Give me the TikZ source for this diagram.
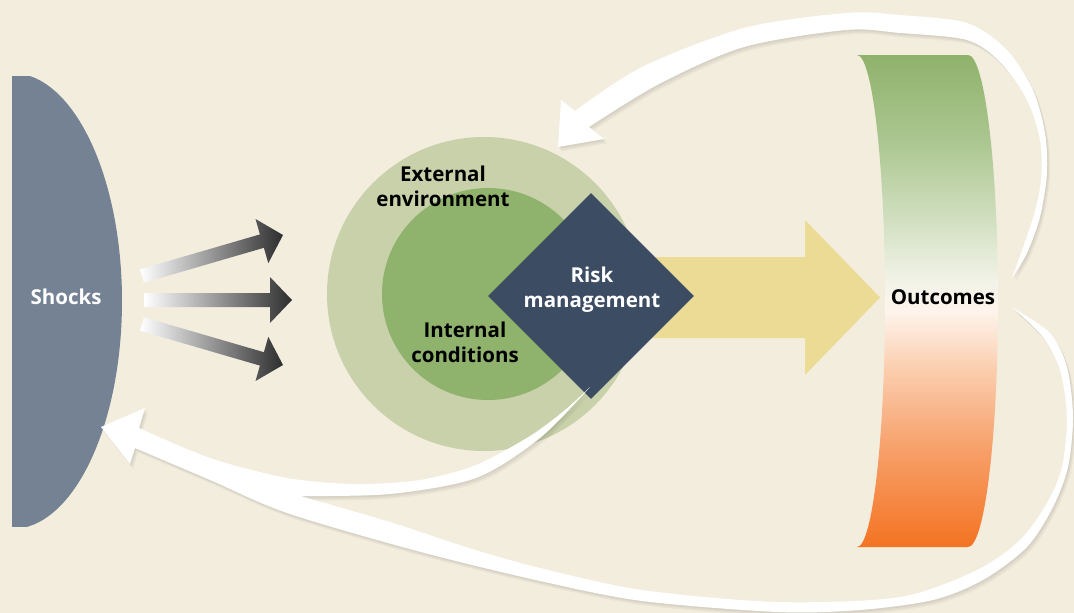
\documentclass[tikz,border=0pt]{standalone}
\usepackage{fontspec}
\setmainfont{Open Sans}
\usetikzlibrary{shapes.geometric}
\definecolor{bgcol}{HTML}{F3EDDE}
\definecolor{shockcol}{HTML}{748293}
\definecolor{outercol}{HTML}{C8D1AA}
\definecolor{innercol}{HTML}{8FB26C}
\definecolor{diamcol}{HTML}{3C4C63}
\definecolor{yellowcol}{HTML}{ECDB94}
\definecolor{greydark}{HTML}{2E2E2E}
\definecolor{oc1}{HTML}{F47322}
\definecolor{oc2}{HTML}{F7A06A}
\definecolor{oc3}{HTML}{FBCDAE}
\definecolor{oc4}{HTML}{FEF4EC}
\definecolor{oc5}{HTML}{F2F3E8}
\definecolor{oc6}{HTML}{D3E0C2}
\definecolor{oc7}{HTML}{ACC792}
\definecolor{oc8}{HTML}{8FB26C}
\pgfdeclareverticalshading{outshade}{100bp}{color(0bp)=(oc1); color(25bp)=(oc1); color(35bp)=(oc2); color(43bp)=(oc3); color(49bp)=(oc4); color(52bp)=(oc5); color(58bp)=(oc6); color(66bp)=(oc7); color(75bp)=(oc8); color(100bp)=(oc8)}
\begin{document}
\begin{tikzpicture}[x=1pt,y=-1pt,
  lbl/.style={font=\bfseries\fontsize{20.5}{25}\selectfont, align=center, inner sep=0pt},
  greyarrow/.style={left color=white, right color=greydark},
  whitearrow/.style={fill=white,
    preaction={fill=black, fill opacity=0.045, transform canvas={shift={(1pt,-1.5pt)}}},
    preaction={fill=black, fill opacity=0.04, transform canvas={shift={(2pt,-3pt)}}},
    preaction={fill=black, fill opacity=0.035, transform canvas={shift={(3pt,-4.5pt)}}}}]
\fill[bgcol] (0,0) rectangle (1074,613);
\useasboundingbox (0,0) rectangle (1074,613);

% Shocks
\begin{scope}
  \clip (12,76) rectangle (200,526);
  \fill[shockcol] (12,301) ellipse[x radius=110, y radius=228];
\end{scope}
\node[lbl, text=white] (shocks) at (66,297) {Shocks};

% grey gradient arrows
\shade[greyarrow] (144,282.7) -- (263.9,247.8) -- (268.3,263.2) -- (283,235) -- (255.5,219) -- (259.9,234.4) -- (140,269.3) -- cycle;
\shade[greyarrow] (144,307) -- (270,307) -- (270,323) -- (292,300) -- (270,277) -- (270,293) -- (144,293) -- cycle;
\shade[greyarrow] (140,330.7) -- (259.9,365.6) -- (255.5,381) -- (283,365) -- (268.3,336.8) -- (263.9,352.2) -- (144,317.3) -- cycle;

% circles
\node[circle, fill=outercol, minimum size=314pt, inner sep=0] (external) at (484,294) {};
\node[circle, fill=innercol, minimum size=212pt, inner sep=0] (internal) at (488,294) {};

% yellow arrow
\fill[yellowcol] (640,257) -- (805,257) -- (805,220) -- (880,297.5) -- (805,375) -- (805,338) -- (640,338) -- cycle;

% diamond
\node[diamond, aspect=1, fill=diamcol, minimum width=206pt, minimum height=206pt, inner sep=0] (risk) at (591,296) {};

% outcomes
\shade[shading=outshade]
  (857,55) arc[start angle=-90, end angle=90, x radius=28, y radius=246]
  -- (968,547) arc[start angle=90, end angle=-90, x radius=30, y radius=246] -- cycle;

% white arrow upper (outcomes -> environment)
\path[whitearrow] (558,147) -- (604,139) -- (589,127)
  -- plot[smooth] coordinates {(589,127) (659,84) (744,47) (846,30) (900,33) (967,40) (1000,62) (1027,100) (1040,140) (1041,180) (1033,218) (1012,278)}
  -- plot[smooth] coordinates {(1012,278) (1027,253) (1040,217) (1047,173) (1045,133) (1033,90) (1007,50) (967,23) (900,15) (846,13) (744,28) (642,67) (575,111)}
  -- (561,100) -- cycle;

% white arrow lower (outcomes / risk -> shocks)
\path[whitearrow] (101,427) -- (145,408) -- (139,428)
  -- plot[smooth] coordinates {(139,428) (210,458) (287,478) (355,484) (420,480) (476,465) (530,436) (565,410) (590,387)}
  -- plot[smooth] coordinates {(590,387) (540,438) (476,478) (390,494) (300,496)}
  -- plot[smooth] coordinates {(300,496) (390,522) (469,548) (540,568) (642,590) (778,602) (900,597) (977,570) (1020,540) (1047,503) (1062,467) (1067,417) (1060,370) (1043,337) (1013,308)}
  -- plot[smooth] coordinates {(1013,308) (1050,333) (1067,367) (1073,417) (1068,467) (1053,507) (1027,547) (983,580) (933,600) (860,610) (778,612) (642,601) (540,581) (417,551) (287,513) (210,480) (135,448)}
  -- (130,464) -- cycle;

% labels
\node[lbl] (exttext) at (443,186) {External\\environment};
\node[lbl] (inttext) at (465,342) {Internal\\conditions};
\node[lbl, text=white] (risktext) at (592,290) {Risk\\management};
\node[lbl] (outtext) at (943,297) {Outcomes};
\end{tikzpicture}
\end{document}
